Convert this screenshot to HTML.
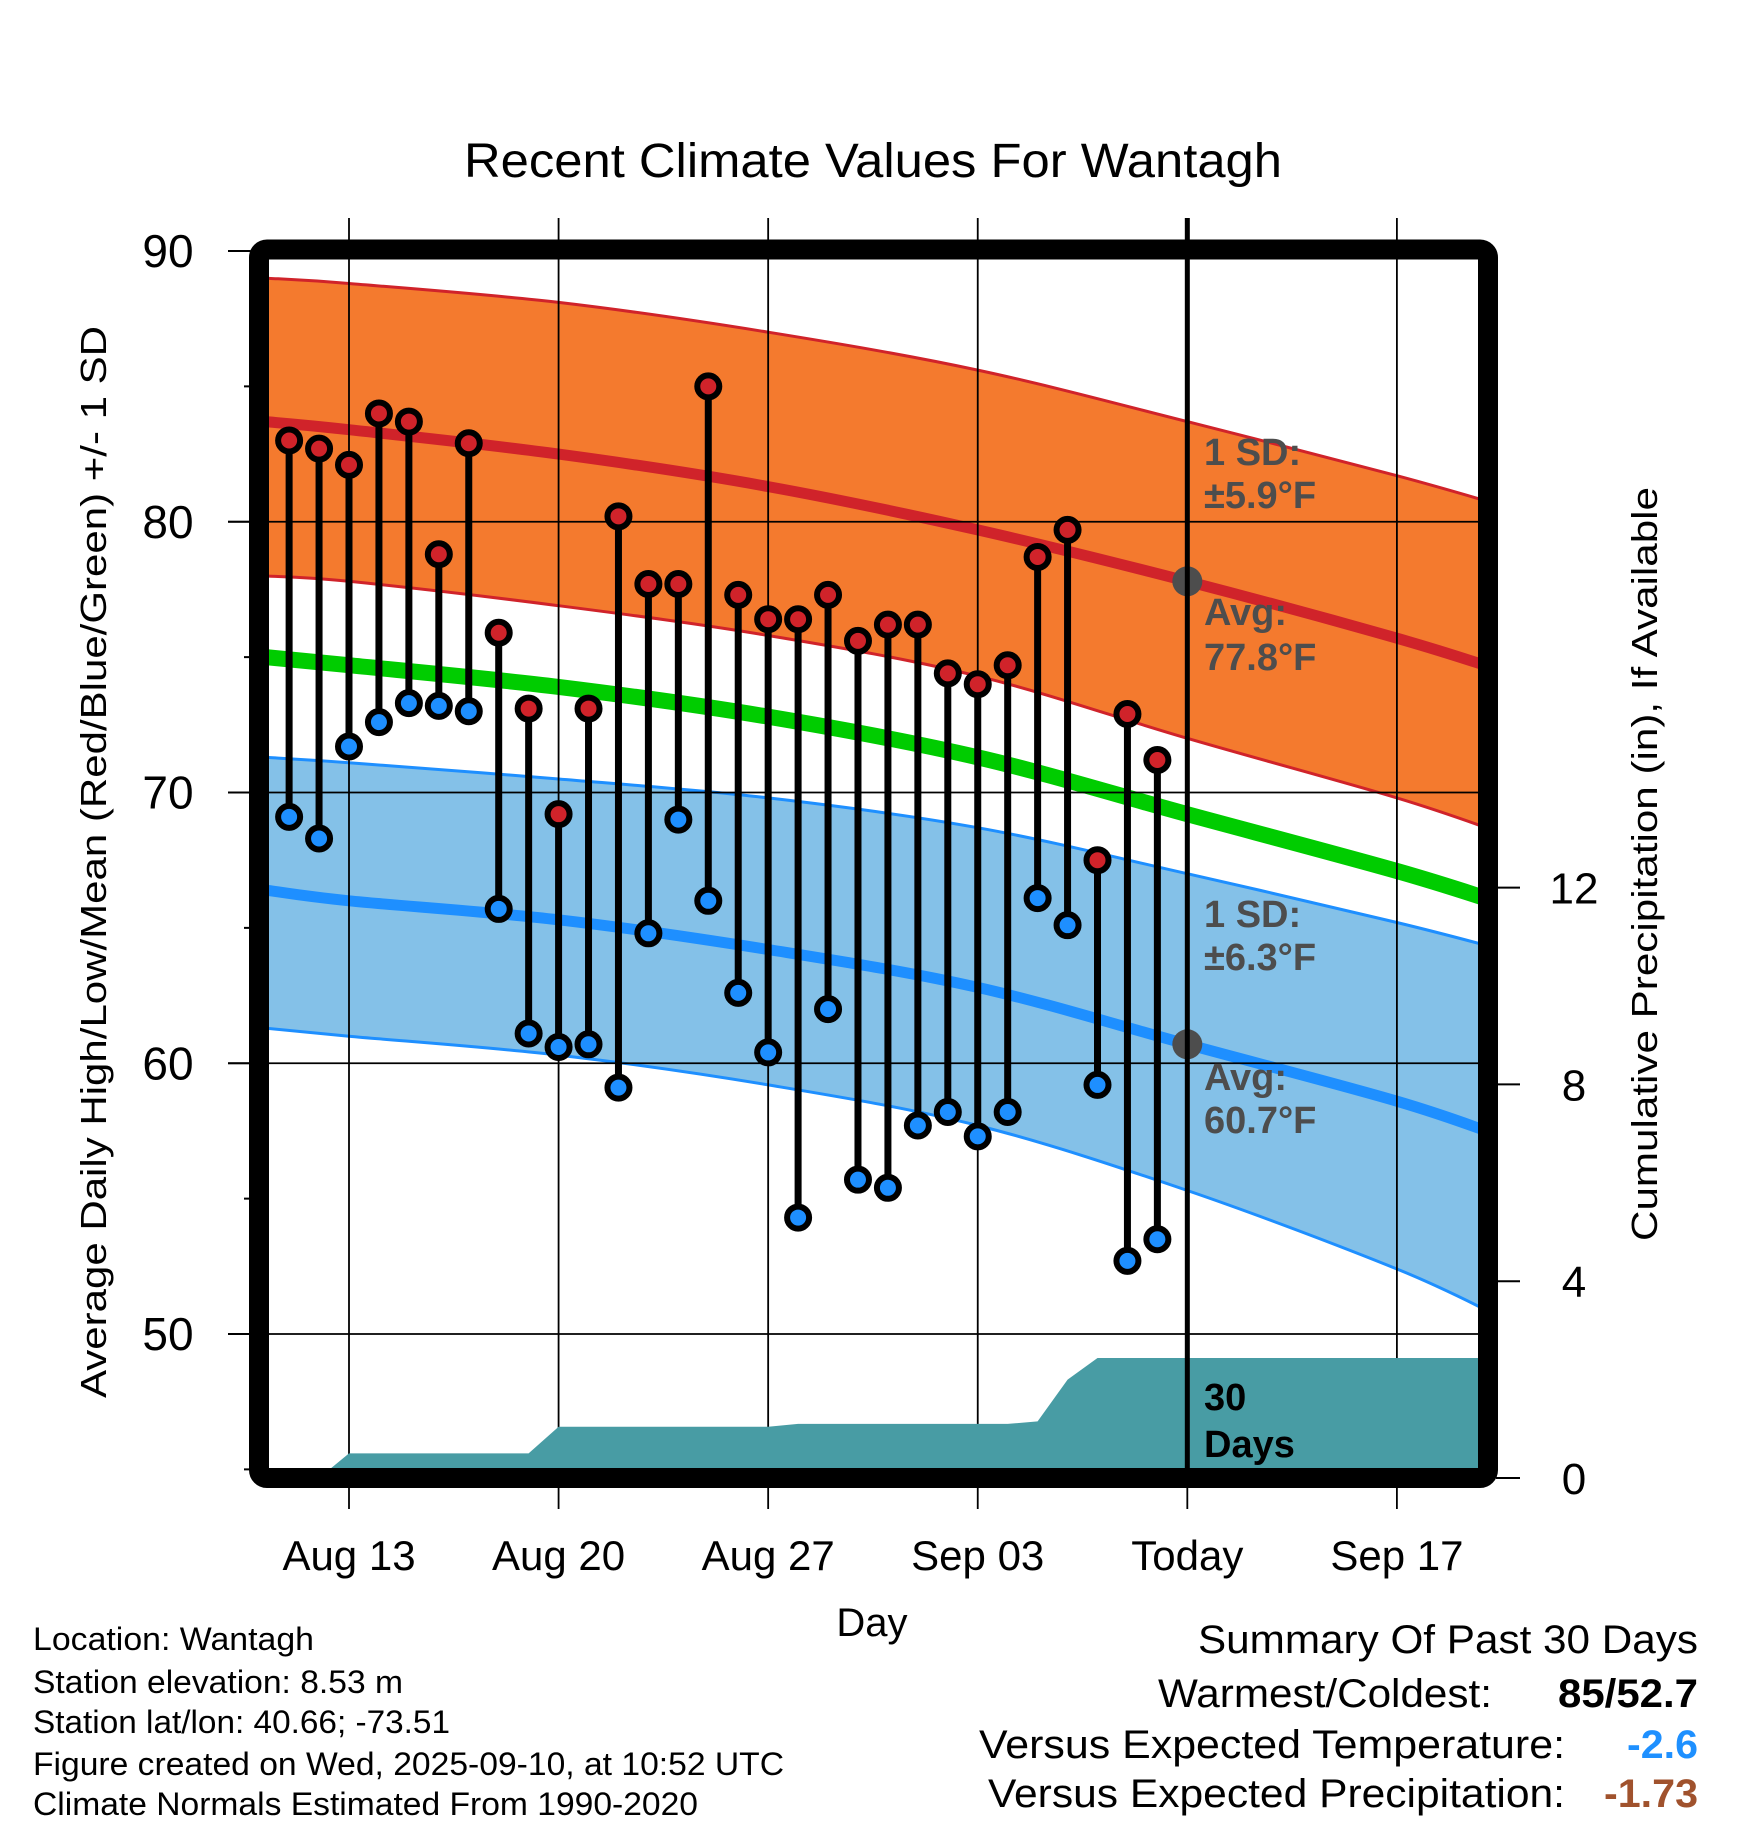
<!DOCTYPE html>
<html><head><meta charset="utf-8"><style>
html,body{margin:0;padding:0;background:#fff;}
svg{display:block;font-family:"Liberation Sans",Arial,sans-serif;}
</style></head><body>
<svg id="chart" width="1748" height="1828" viewBox="0 0 1748 1828" xmlns="http://www.w3.org/2000/svg">
<defs><clipPath id="plotclip"><rect x="269" y="260" width="1209" height="1208"/></clipPath></defs>
<rect x="0" y="0" width="1748" height="1828" fill="#fff"/>
<g id="plot" clip-path="url(#plotclip)"></g>
<g id="over"></g>
<text x="873" y="177" font-size="48" text-anchor="middle" textLength="818" lengthAdjust="spacingAndGlyphs">Recent Climate Values For Wantagh</text>
<text transform="translate(106,862) rotate(-90)" font-size="36" text-anchor="middle" textLength="1072" lengthAdjust="spacingAndGlyphs">Average Daily High/Low/Mean (Red/Blue/Green) +/- 1 SD</text>
<text transform="translate(1657,864) rotate(-90)" font-size="36" text-anchor="middle" textLength="754" lengthAdjust="spacingAndGlyphs">Cumulative Precipitation (in), If Available</text>
<text x="872" y="1636" font-size="40" text-anchor="middle">Day</text>
<g font-size="32">
<text x="33" y="1650" textLength="281" lengthAdjust="spacingAndGlyphs">Location: Wantagh</text>
<text x="33" y="1693" textLength="370" lengthAdjust="spacingAndGlyphs">Station elevation: 8.53 m</text>
<text x="33" y="1733" textLength="417" lengthAdjust="spacingAndGlyphs">Station lat/lon: 40.66; -73.51</text>
<text x="33" y="1775" textLength="751" lengthAdjust="spacingAndGlyphs">Figure created on Wed, 2025-09-10, at 10:52 UTC</text>
<text x="33" y="1815" textLength="665" lengthAdjust="spacingAndGlyphs">Climate Normals Estimated From 1990-2020</text>
</g>
<g font-size="40">
<text x="1698" y="1653" text-anchor="end" textLength="500" lengthAdjust="spacingAndGlyphs">Summary Of Past 30 Days</text>
<text x="1492" y="1707" text-anchor="end" textLength="334" lengthAdjust="spacingAndGlyphs">Warmest/Coldest:</text>
<text x="1698" y="1707" text-anchor="end" font-weight="bold" textLength="140" lengthAdjust="spacingAndGlyphs">85/52.7</text>
<text x="1565" y="1758" text-anchor="end" textLength="586" lengthAdjust="spacingAndGlyphs">Versus Expected Temperature:</text>
<text x="1698" y="1758" text-anchor="end" font-weight="bold" fill="#1e90ff" textLength="71" lengthAdjust="spacingAndGlyphs">-2.6</text>
<text x="1565" y="1807" text-anchor="end" textLength="577" lengthAdjust="spacingAndGlyphs">Versus Expected Precipitation:</text>
<text x="1698" y="1807" text-anchor="end" font-weight="bold" fill="#a0522d" textLength="94" lengthAdjust="spacingAndGlyphs">-1.73</text>
</g>
</svg>
<script>
// ---- data ----
const highs = [83.0,82.7,82.1,84.0,83.7,78.8,82.9,75.9,73.1,69.2,73.1,80.2,77.7,77.7,85.0,77.3,76.4,76.4,77.3,75.6,76.2,76.2,74.4,74.0,74.7,78.7,79.7,67.5,72.9,71.2];
const lows = [69.1,68.3,71.7,72.6,73.3,73.2,73.0,65.7,61.1,60.6,60.7,59.1,64.8,69.0,66.0,62.6,60.4,54.3,62.0,55.7,55.4,57.7,58.2,57.3,58.2,66.1,65.1,59.2,52.7,53.5];
const precipCum = [0,0,0.5,0.5,0.5,0.5,0.5,0.5,0.5,1.04,1.04,1.04,1.04,1.04,1.04,1.04,1.04,1.1,1.1,1.1,1.1,1.1,1.1,1.1,1.1,1.15,2.0,2.44,2.44,2.44];
const normDays = [-2.8,0,7,14,21,28,35,38.5]; // days relative to Aug 13
const redUpper = [89.0,88.8,88.1,87.0,85.6,83.7,81.7,80.6];
const redAvg = [83.7,83.4,82.5,81.3,79.7,77.8,75.7,74.5];
const redLower = [78.0,77.8,76.9,75.8,74.3,72.0,69.8,68.5];
const greenMean = [75.0,74.7,73.9,72.8,71.3,69.2,67.1,65.9];
const blueUpper = [71.3,71.1,70.5,69.8,68.7,67.0,65.2,64.2];
const blueAvg = [66.4,66.0,65.3,64.2,62.8,60.7,58.6,57.3];
const blueLower = [61.3,61.0,60.3,59.2,57.7,55.3,52.4,50.6];
const xTickLabels = ["Aug 13","Aug 20","Aug 27","Sep 03","Today","Sep 17"];
const yTicks = [50,60,70,80,90];
const yMinor = [45,55,65,75,85];
const pTicks = [0,4,8,12];
const firstDay = -2; // Aug 11 relative to Aug 13
const todayDay = 28;

// ---- scales ----
const X = d => 349 + d*29.94;
const Y = t => 251 + (90-t)*27.075;
const P = p => 1478 - p*49.2;
const NS='http://www.w3.org/2000/svg';
const plot=document.getElementById('plot'), over=document.getElementById('over');
function mk(tag,attrs,parent){const e=document.createElementNS(NS,tag);for(const k in attrs)e.setAttribute(k,attrs[k]);parent.appendChild(e);return e;}
function xy(vals){return normDays.map((d,i)=>[X(d),Y(vals[i])]);}
// Catmull-Rom smooth path segments
function smooth(p){
  let s='';
  for(let i=0;i<p.length-1;i++){
    const p0=p[Math.max(0,i-1)],p1=p[i],p2=p[i+1],p3=p[Math.min(p.length-1,i+2)];
    const c1=[p1[0]+(p2[0]-p0[0])/6,p1[1]+(p2[1]-p0[1])/6];
    const c2=[p2[0]-(p3[0]-p1[0])/6,p2[1]-(p3[1]-p1[1])/6];
    s+=' C'+c1[0].toFixed(1)+','+c1[1].toFixed(1)+' '+c2[0].toFixed(1)+','+c2[1].toFixed(1)+' '+p2[0].toFixed(1)+','+p2[1].toFixed(1);
  }
  return s;
}
function linePath(vals){const p=xy(vals);return 'M'+p[0][0].toFixed(1)+','+p[0][1].toFixed(1)+smooth(p);}
function bandPath(up,lo){const a=xy(up),b=xy(lo).reverse();return 'M'+a[0][0]+','+a[0][1]+smooth(a)+' L'+b[0][0]+','+b[0][1]+smooth(b)+' Z';}

let e;
e=mk('path',{d:bandPath(redUpper,redLower),fill:'#f47a2e'},plot);


e=mk('path',{d:bandPath(blueUpper,blueLower),fill:'#84c1e8'},plot);


const lines=[[redUpper,'#d0232a',3,'high-upper-line'],[redLower,'#d0232a',3,'high-lower-line'],[blueUpper,'#1e8fff',3,'low-upper-line'],[blueLower,'#1e8fff',3,'low-lower-line'],[redAvg,'#d0232a',11,'high-avg-line'],[blueAvg,'#1e8fff',11,'low-avg-line'],[greenMean,'#00cc00',16,'mean-line']];
lines.forEach(l=>{
  const p=mk('path',{d:linePath(l[0]),fill:'none',stroke:l[1],'stroke-width':l[2]},plot);
  
  
});
// gridlines
yTicks.forEach(t=>{
  const g=mk('line',{x1:228,x2:1478,y1:Y(t),y2:Y(t),stroke:'#000','stroke-width':1.8},over);
  
  
});
xTickLabels.forEach((lab,i)=>{
  const g=mk('line',{x1:X(i*7),x2:X(i*7),y1:218,y2:1509,stroke:'#000','stroke-width':1.8},over);
  
  
  const t=mk('text',{x:X(i*7),y:1570,'font-size':42,'text-anchor':'middle'},over);
  t.textContent=lab;
  
  
});
// precip area (clipped)
const pg=mk('g',{'clip-path':'url(#plotclip)'},over);


let pp=[X(-3)+','+P(0)];
precipCum.forEach((v,i)=>pp.push(X(firstDay+i).toFixed(1)+','+P(v).toFixed(1)));
pp.push(X(40)+','+P(precipCum[precipCum.length-1]));
pp.push(X(40)+','+P(0));
e=mk('polygon',{points:pp.join(' '),fill:'#489ca4'},pg);


// gray avg dots
[redAvg[5],blueAvg[5]].forEach(v=>{
  const c=mk('circle',{cx:X(todayDay),cy:Y(v),r:15,fill:'#4d4d4d'},over);
  
  
});
e=mk('line',{x1:X(todayDay),x2:X(todayDay),y1:218,y2:1470,stroke:'#000','stroke-width':5},over);


// stems and points
highs.forEach((h,i)=>{
  const x=X(firstDay+i);
  const s=mk('line',{x1:x,x2:x,y1:Y(h),y2:Y(lows[i]),stroke:'#000','stroke-width':7},over);
  
  
});
highs.forEach((h,i)=>{
  const x=X(firstDay+i);
  const a=mk('circle',{cx:x,cy:Y(h),r:11,fill:'#d0232a',stroke:'#000','stroke-width':6},over);
  
  
  const b=mk('circle',{cx:x,cy:Y(lows[i]),r:11,fill:'#1e8fff',stroke:'#000','stroke-width':6},over);
  
  
});
// box
e=mk('rect',{x:259,y:249.5,width:1229,height:1228.5,rx:8,fill:'none',stroke:'#000','stroke-width':20},over);


yTicks.forEach(t=>{
  const k=mk('line',{x1:228,x2:250,y1:Y(t),y2:Y(t),stroke:'#000','stroke-width':2},over);
  
  
  const l=mk('text',{x:168,y:Y(t)+16,'font-size':46,'text-anchor':'middle'},over);
  l.textContent=t;
  
  
});
yMinor.forEach(t=>{
  const k=mk('line',{x1:244,x2:252,y1:Y(t),y2:Y(t),stroke:'#000','stroke-width':2},over);
  
  
});
pTicks.forEach(p=>{
  const k=mk('line',{x1:1496,x2:1520,y1:P(p),y2:P(p),stroke:'#000','stroke-width':2},over);
  
  
  const l=mk('text',{x:1574,y:P(p)+16,'font-size':44,'text-anchor':'middle'},over);
  l.textContent=p;
  
  
});
// annotations
const ann=[['1 SD:',465,'#4d4d4d'],['\u00b15.9\u00b0F',508,'#4d4d4d'],['Avg:',625,'#4d4d4d'],['77.8\u00b0F',670,'#4d4d4d'],['1 SD:',927,'#4d4d4d'],['\u00b16.3\u00b0F',970,'#4d4d4d'],['Avg:',1090,'#4d4d4d'],['60.7\u00b0F',1133,'#4d4d4d'],['30',1410,'#000'],['Days',1457,'#000']];
ann.forEach(a=>{
  const t=mk('text',{x:1204,y:a[1],'font-size':38,'font-weight':'bold',fill:a[2]},over);
  t.textContent=a[0];
  
  
});
</script>
</body></html>
